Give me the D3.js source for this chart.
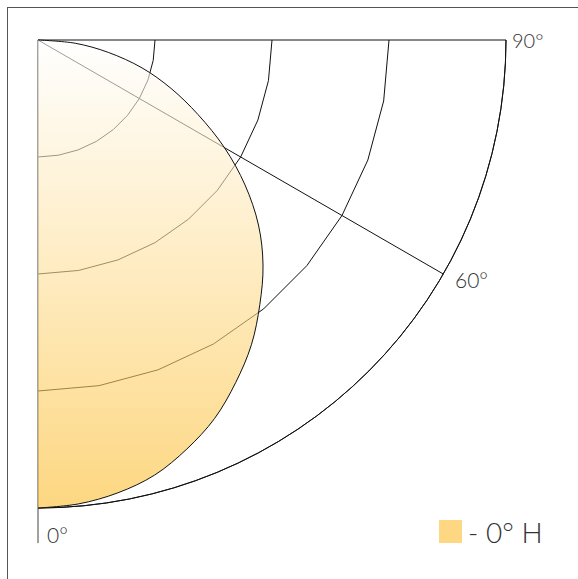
<!DOCTYPE html>
<html>
<head>
<meta charset="utf-8">
<script src="https://cdn.jsdelivr.net/npm/d3@7"></script>
<style>
  body { margin: 0; background: #fff; }
  svg { display: block; }
  .lbl { font-family: "Lato", "DejaVu Sans", sans-serif; font-weight: 300; fill: #333; }
</style>
</head>
<body>
<div id="chart"></div>
<script>
// luminous intensity, 0° = straight down, 90° = horizontal
var angles = [0, 5, 10, 15, 20, 25, 30, 35, 40, 45, 50, 55, 60, 65, 70, 75, 80, 85, 90];
var intensity = [400, 398, 393, 385, 372, 357, 338, 318, 295, 272, 246, 216, 184, 151, 121, 92, 61, 32, 0];

var ringValues = [100, 200, 300];
var outerValue = 400;
var ringAngles = [0, 10, 20, 30, 40, 50, 60, 70, 80, 90];
var spokeAngles = [60, 90];
var angleLabels = ["0°", "60°", "90°"];
var seriesName = "- 0° H";

var width = 578, height = 579;
var cx = 38, cy = 40;

var svg = d3.select("#chart")
  .append("svg")
  .attr("width", width)
  .attr("height", height);

// frame
svg.append("rect")
  .attr("x", 7.5).attr("y", 7.5)
  .attr("width", 700).attr("height", 700)
  .style("fill", "none")
  .style("stroke", "#555")
  .style("stroke-width", 1);

var defs = svg.append("defs");
var grad = defs.append("linearGradient")
  .attr("id", "fillGrad")
  .attr("gradientUnits", "userSpaceOnUse")
  .attr("x1", 0).attr("y1", 0).attr("x2", 0).attr("y2", 468);
grad.append("stop").attr("offset", "0%").attr("stop-color", "#ffffff");
grad.append("stop").attr("offset", "100%").attr("stop-color", "#fcbd2e");

var r = d3.scaleLinear().domain([0, 400]).range([0, 468]);
var toRad = d => Math.PI - d * Math.PI / 180;

var g = svg.append("g").attr("transform", "translate(" + cx + "," + cy + ")");

// inner rings (drawn as polygons through 10° steps)
var ringLine = d3.lineRadial()
  .angle(d => toRad(d.a))
  .radius(d => r(d.v));

g.selectAll(".ring")
  .data(ringValues)
  .enter()
  .append("path")
  .attr("class", "ring")
  .attr("d", v => ringLine(ringAngles.map(a => ({a: a, v: v}))))
  .style("fill", "none")
  .style("stroke", "#111")
  .style("stroke-width", 1);

// outer ring, smooth arc
g.append("path")
  .attr("d", d3.arc()({
    innerRadius: r(outerValue), outerRadius: r(outerValue),
    startAngle: Math.PI / 2, endAngle: Math.PI
  }))
  .style("fill", "none")
  .style("stroke", "#111")
  .style("stroke-width", 1);

// spokes
g.selectAll(".spoke")
  .data(spokeAngles)
  .enter()
  .append("line")
  .attr("class", "spoke")
  .attr("x1", 0).attr("y1", 0)
  .attr("x2", d => r(outerValue) * Math.sin(d * Math.PI / 180))
  .attr("y2", d => r(outerValue) * Math.cos(d * Math.PI / 180))
  .style("stroke", "#111")
  .style("stroke-width", 1);

// 0° axis, a bit longer than the outer ring
g.append("line")
  .attr("x1", 0).attr("y1", 0)
  .attr("x2", 0).attr("y2", r(430))
  .style("stroke", "#444")
  .style("stroke-width", 1);

// the intensity curve
var pts = angles.map((a, i) => ({a: a, v: intensity[i]}));
var curve = d3.lineRadial()
  .angle(d => toRad(d.a))
  .radius(d => r(d.v))
  .curve(d3.curveCatmullRom);

g.append("path")
  .attr("d", curve(pts) + "L0,0Z")
  .style("fill", "url(#fillGrad)")
  .style("fill-opacity", 0.6)
  .style("stroke", "none");

g.append("path")
  .attr("d", curve(pts))
  .style("fill", "none")
  .style("stroke", "#111")
  .style("stroke-width", 1);

// angle labels
var labelPos = [
  {x: 9, y: 503, size: 21},
  {x: 417, y: 248, size: 21},
  {x: 474, y: 8, size: 20}
];
g.selectAll(".albl")
  .data(angleLabels)
  .enter()
  .append("text")
  .attr("class", "lbl")
  .attr("x", (d, i) => labelPos[i].x)
  .attr("y", (d, i) => labelPos[i].y)
  .style("font-size", (d, i) => labelPos[i].size + "px")
  .text(d => d);

// legend
var legend = svg.append("g").attr("transform", "translate(439,520)");
legend.append("rect")
  .attr("width", 23).attr("height", 23)
  .style("fill", "#fcbd2e")
  .style("fill-opacity", 0.6);
legend.append("text")
  .attr("class", "lbl")
  .attr("x", 29).attr("y", 23)
  .style("font-size", "28px")
  .text(seriesName);
</script>
</body>
</html>
